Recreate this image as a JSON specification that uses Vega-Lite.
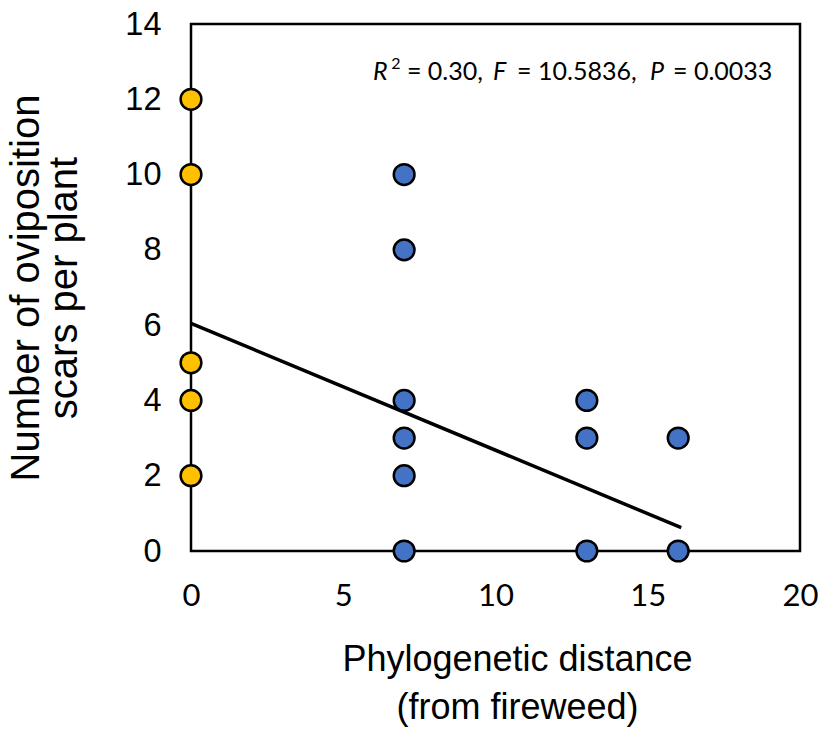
{
  "$schema": "https://vega.github.io/schema/vega-lite/v6.json",
  "autosize": "none",
  "width": 609,
  "height": 527,
  "padding": {"left": 191, "top": 24, "right": 24, "bottom": 178},
  "background": "white",
  "config": {
    "view": {"stroke": "black", "strokeWidth": 2.5},
    "axis": {
      "domain": false, "ticks": false, "grid": false, "labelFlush": false,
      "labelColor": "black",
      "titleFont": "Liberation Sans", "titleFontWeight": "normal", "titleColor": "black"
    }
  },
  "datasets": {
    "points": [
      {"distance": 0, "scars": 12, "group": "fireweed"},
      {"distance": 0, "scars": 10, "group": "fireweed"},
      {"distance": 0, "scars": 5, "group": "fireweed"},
      {"distance": 0, "scars": 4, "group": "fireweed"},
      {"distance": 0, "scars": 2, "group": "fireweed"},
      {"distance": 7, "scars": 10, "group": "other"},
      {"distance": 7, "scars": 8, "group": "other"},
      {"distance": 7, "scars": 4, "group": "other"},
      {"distance": 7, "scars": 3, "group": "other"},
      {"distance": 7, "scars": 2, "group": "other"},
      {"distance": 7, "scars": 0, "group": "other"},
      {"distance": 13, "scars": 4, "group": "other"},
      {"distance": 13, "scars": 3, "group": "other"},
      {"distance": 13, "scars": 0, "group": "other"},
      {"distance": 16, "scars": 3, "group": "other"},
      {"distance": 16, "scars": 0, "group": "other"}
    ],
    "fit": [
      {"distance": 0, "scars": 6.05},
      {"distance": 16.1, "scars": 0.62}
    ]
  },
  "layer": [
    {
      "data": {"name": "fit"},
      "mark": {"type": "line", "color": "black", "strokeWidth": 3.5},
      "encoding": {
        "x": {"field": "distance", "type": "quantitative", "scale": {"domain": [0, 20], "nice": false},
              "axis": {"values": [0, 5, 10, 15, 20], "labelFont": "Lato", "labelFontSize": 31, "labelPadding": 30, "title": ["Phylogenetic distance", "(from fireweed)"], "titleFontSize": 36, "titlePadding": 31, "titleLineHeight": 48, "titleX": 326}},
        "y": {"field": "scars", "type": "quantitative", "scale": {"domain": [0, 14], "nice": false},
              "axis": {"values": [0, 2, 4, 6, 8, 10, 12, 14], "labelFont": "Liberation Sans", "labelFontSize": 32.5, "labelPadding": 30, "title": ["Number of oviposition", "scars per plant"], "titleFontSize": 40, "titlePadding": 40, "titleLineHeight": 38}}
      }
    },
    {
      "data": {"name": "points"},
      "mark": {"type": "circle", "size": 430, "opacity": 1, "stroke": "black", "strokeWidth": 2.5},
      "encoding": {
        "x": {"field": "distance", "type": "quantitative"},
        "y": {"field": "scars", "type": "quantitative"},
        "color": {"field": "group", "type": "nominal", "scale": {"domain": ["fireweed", "other"], "range": ["#FFC000", "#4472C4"]}, "legend": null}
      }
    },
    {
      "data": {"values": [{}]},
      "mark": {"type": "text", "text": "R", "font": "Lato", "fontSize": 25, "fontStyle": "italic", "align": "left", "baseline": "middle", "color": "black"},
      "encoding": {"x": {"datum": 5.98}, "y": {"datum": 12.72}}
    },
    {
      "data": {"values": [{}]},
      "mark": {"type": "text", "text": "2", "font": "Lato", "fontSize": 16, "align": "left", "baseline": "middle", "dy": -8, "color": "black"},
      "encoding": {"x": {"datum": 6.58}, "y": {"datum": 12.72}}
    },
    {
      "data": {"values": [{}]},
      "mark": {"type": "text", "text": "= 0.30,", "font": "Lato", "fontSize": 25, "align": "left", "baseline": "middle", "color": "black"},
      "encoding": {"x": {"datum": 7.09}, "y": {"datum": 12.72}}
    },
    {
      "data": {"values": [{}]},
      "mark": {"type": "text", "text": "F", "font": "Lato", "fontSize": 25, "fontStyle": "italic", "align": "left", "baseline": "middle", "color": "black"},
      "encoding": {"x": {"datum": 9.92}, "y": {"datum": 12.72}}
    },
    {
      "data": {"values": [{}]},
      "mark": {"type": "text", "text": "= 10.5836,", "font": "Lato", "fontSize": 25, "align": "left", "baseline": "middle", "color": "black"},
      "encoding": {"x": {"datum": 10.71}, "y": {"datum": 12.72}}
    },
    {
      "data": {"values": [{}]},
      "mark": {"type": "text", "text": "P", "font": "Lato", "fontSize": 25, "fontStyle": "italic", "align": "left", "baseline": "middle", "color": "black"},
      "encoding": {"x": {"datum": 15.07}, "y": {"datum": 12.72}}
    },
    {
      "data": {"values": [{}]},
      "mark": {"type": "text", "text": "= 0.0033", "font": "Lato", "fontSize": 25, "align": "left", "baseline": "middle", "color": "black"},
      "encoding": {"x": {"datum": 15.83}, "y": {"datum": 12.72}}
    }
  ]
}
